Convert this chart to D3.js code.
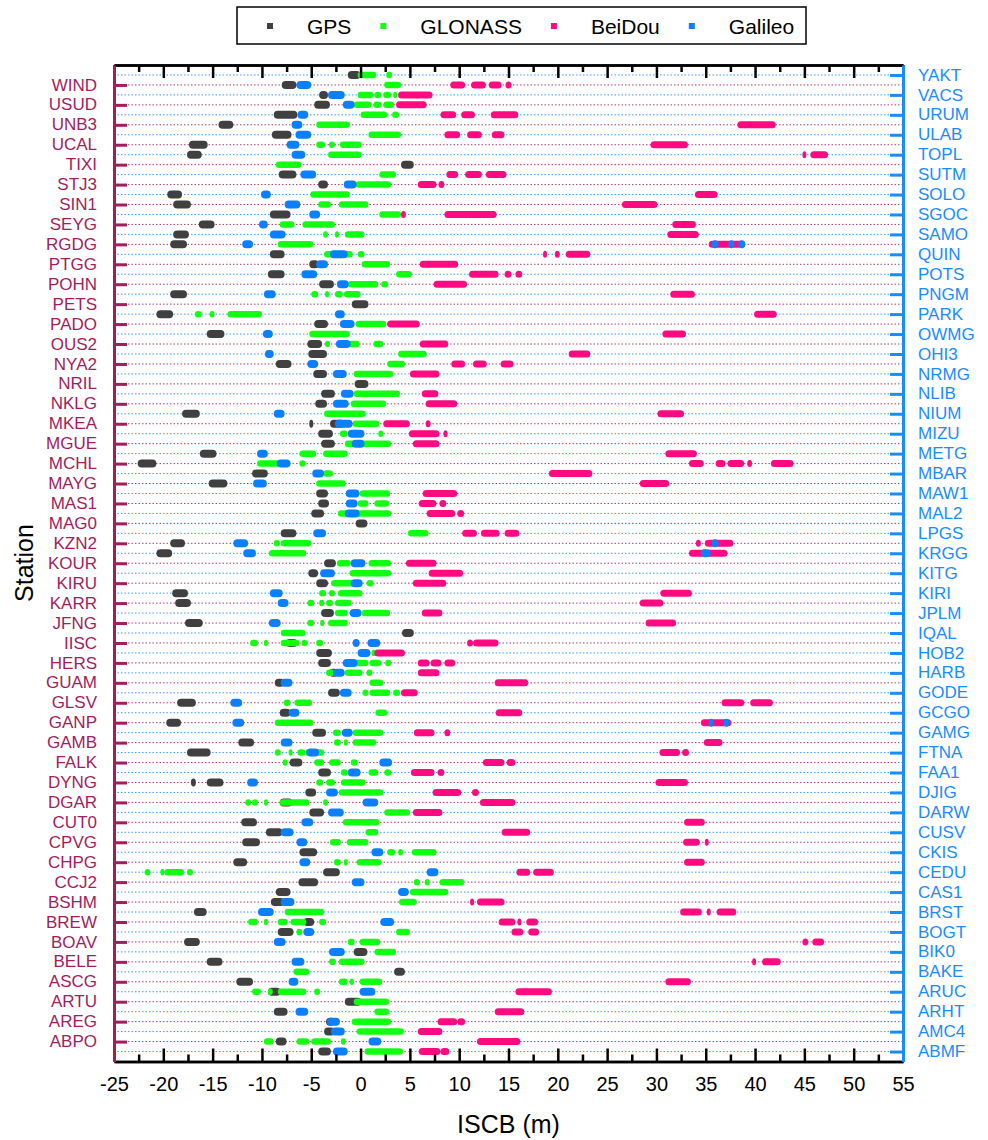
<!DOCTYPE html>
<html>
<head>
<meta charset="utf-8">
<script src="https://cdn.jsdelivr.net/npm/d3@7"></script>
<style>
  body { margin: 0; background: #fff; }
  text { font-family: "Liberation Sans", Arial, sans-serif; }
</style>
</head>
<body>
<div id="chart"></div>
<script>
// station names, left axis (maroon) and right axis (blue), top to bottom
const stationsLeft = ["WIND","USUD","UNB3","UCAL","TIXI","STJ3","SIN1","SEYG","RGDG","PTGG","POHN","PETS","PADO","OUS2","NYA2","NRIL","NKLG","MKEA","MGUE","MCHL","MAYG","MAS1","MAG0","KZN2","KOUR","KIRU","KARR","JFNG","IISC","HERS","GUAM","GLSV","GANP","GAMB","FALK","DYNG","DGAR","CUT0","CPVG","CHPG","CCJ2","BSHM","BREW","BOAV","BELE","ASCG","ARTU","AREG","ABPO"];
const stationsRight = ["YAKT","VACS","URUM","ULAB","TOPL","SUTM","SOLO","SGOC","SAMO","QUIN","POTS","PNGM","PARK","OWMG","OHI3","NRMG","NLIB","NIUM","MIZU","METG","MBAR","MAW1","MAL2","LPGS","KRGG","KITG","KIRI","JPLM","IQAL","HOB2","HARB","GODE","GCGO","GAMG","FTNA","FAA1","DJIG","DARW","CUSV","CKIS","CEDU","CAS1","BRST","BOGT","BIK0","BAKE","ARUC","ARHT","AMC4","ABMF"];

// rows interleaved: right, left, right, left ... (alphabetical, descending)
const rows = [];
stationsRight.forEach((s, i) => { rows.push(s); if (i < stationsLeft.length) rows.push(stationsLeft[i]); });

const systems = ["GPS", "GLONASS", "BeiDou", "Galileo"];
const sysColors = ["#404040", "#11ff11", "#ff0a80", "#0a7fff"];

// ISCB clusters (m) per row, [min, max], row order as in `rows`
const gpsISCB = [
 [[-1.3,0]],[[-8.0,-6.5]],[[-4.2,-3.3]],[[-4.7,-3.1]],[[-8.8,-6.4]],[[-14.4,-12.9]],[[-9.0,-7.0]],[[-17.4,-15.5]],[[-17.6,-16.1]],[[4.1,5.4]],
 [[-8.3,-6.5]],[[-4.3,-3.3]],[[-19.6,-18.1]],[[-19.0,-17.2]],[[-9.2,-7.1]],[[-16.4,-14.8]],[[-19.0,-17.4]],[[-19.3,-17.6]],[[-9.2,-7.7]],[[-5.2,-4.2]],
 [[-9.4,-7.7]],[[-4.2,-2.7]],[[-19.3,-17.6]],[[-0.9,0.8]],[[-20.7,-19.0]],[[-4.7,-3.3]],[[-15.6,-13.8]],[[-5.4,-3.9]],[[-5.3,-3.4]],[[-8.6,-7.0]],
 [[-4.8,-3.4]],[[-0.6,0.8]],[[-4.0,-2.6]],[[-4.6,-3.4]],[[-18.1,-16.3]],[[-5.2,-5.0],[-3.1,-1.6]],[[-4.3,-2.8]],[[-4.0,-2.6]],[[-16.3,-14.6]],[[-22.6,-20.7]],
 [[-11.0,-9.4]],[[-15.4,-13.5]],[[-4.5,-3.3]],[[-4.3,-3.2]],[[-5.0,-3.7]],[[-0.5,0.7]],[[-8.1,-6.5]],[[-19.3,-17.8]],[[-20.7,-19.1]],[[-3.7,-2.5]],
 [[-5.3,-4.3]],[[-4.5,-3.3]],[[-19.1,-17.5]],[[-18.8,-17.2]],[[-4.0,-2.7]],[[-17.8,-16.0]],[[4.2,5.4]],[[-7.6,-6.4]],[[-4.5,-2.9]],[[-4.3,-3.0]],
 [[-3.2,-2.3]],[[-8.7,-7.7]],[[-3.3,-2.1]],[[-18.6,-16.7]],[[-8.2,-7.1]],[[-19.7,-18.2]],[[-4.9,-3.5]],[[-12.4,-10.8]],[[-17.6,-15.2]],[[-7.2,-5.9]],
 [[-4.3,-3.0]],[[-17.2,-16.7],[-15.6,-13.9]],[[-5.6,-4.5]],[[-8.2,-6.9]],[[-5.2,-3.7]],[[-12.1,-10.5]],[[-9.6,-7.9]],[[-12.0,-10.2]],[[-6.2,-4.4]],[[-12.9,-11.5]],
 [[-3.8,-2.1]],[[-6.3,-4.3]],[[-8.6,-7.1]],[[-9.1,-7.7]],[[-16.9,-15.6]],[[-5.8,-4.7]],[[-8.4,-6.8]],[[-17.9,-16.3]],[[-0.7,0.7]],[[-15.6,-14.0]],
 [[3.4,4.5]],[[-12.6,-10.9]],[[-9.4,-8.1]],[[-1.6,0.1]],[[-8.8,-7.4]],[[-3.5,-2.6]],[[-3.7,-2.6]],[[-8.6,-7.5]],[[-4.3,-3.0]]
];
const glonassISCB = [
 [[-0.3,1.6],[2.6,3.2]],[[2.4,4.1]],[[-0.3,1.3],[1.4,2.1],[2.3,3.1],[3.3,3.7]],[[-0.7,1.1],[1.3,2.1],[2.3,3.4]],[[0,2.7],[3.2,3.9]],
 [[-4.5,-1.1]],[[0.8,4.1]],[[-4.5,-3.6],[-3.2,-2.6],[-2.1,0.1]],[[-3.3,0.1]],[[-8.6,-6.0]],
 [[1.9,3.6]],[[-0.5,3.1]],[[-5.1,-1.1]],[[-4.3,-3.0],[-2.2,0.8]],[[1.9,4.1]],
 [[-8.2,-6.7],[-5.9,-2.6]],[[-3.8,-3.3],[-2.6,-2.2],[-1.6,0.4]],[[-8.4,-4.8]],[[-3.7,-0.8],[-0.3,0.4]],[[0.1,3.0]],
 [[3.6,5.2]],[[-1.3,1.8],[2.1,2.8]],[[-5.0,-4.3],[-3.6,-3.2],[-2.6,-1.8],[-1.7,0]],[],[[-16.8,-16.1],[-15.3,-14.8],[-13.5,-10.0]],
 [[-0.5,2.6]],[[-5.2,-1.1]],[[-3.6,-3.1],[-1.3,-0.1],[1.3,2.3]],[[3.8,6.7]],[[2.7,4.5]],
 [[-0.7,3.3]],[],[[-0.7,4.0]],[[-1.0,2.6]],[[-3.7,0.5]],
 [[-0.8,1.9]],[[-2.1,-1.3],[1.8,2.3]],[[-1.6,3.1]],[[-6.2,-4.5],[-3.8,-1.3]],[[-10.5,-8.1],[-6.2,-5.6]],
 [[-3.8,-2.8]],[[-4.5,-1.5]],[[-0.1,3.0]],[[-0.3,0.8],[1.4,2.9]],[[-2.3,3.1]],
 [],[[4.8,6.9]],[[-8.8,-8.2],[-8.1,-5.0]],[[-9.3,-5.5]],[[-2.4,-1.0],[0.8,3.1]],
 [[-1.1,3.1]],[[-3.0,0.2],[0.6,1.3]],[[-4.2,-3.5],[-3.2,-2.6],[-2.3,0.2]],[[-5.4,-4.7],[-4.2,-3.7],[-3.5,-2.8],[-2.6,-0.9]],[[-2.6,-1.3],[0.1,3.0]],
 [[-5.4,-4.7],[-4.1,-3.7],[-3.3,-1.3]],[[-8.1,-5.6]],[[-11.2,-10.4],[-9.8,-9.4],[-8.1,-6.2],[-6.0,-5.4],[-4.5,-3.8]],[[1.1,1.6]],[[-0.7,0.8],[0.9,2.1],[2.5,3.1]],
 [[-3.5,-2.6],[-1.6,0.2],[0.6,1.2]],[[0.9,2.3]],[[0.2,0.8],[0.9,3.0],[3.3,4.0]],[[-7.8,-7.1],[-6.7,-4.9]],[[1.5,2.7]],
 [[-8.7,-4.8]],[[-2.8,-2.0],[-0.8,2.3]],[[-2.7,-2.0],[-1.7,-1.3],[-0.8,1.6]],[[-8.7,-8.1],[-7.3,-6.9],[-6.4,-5.6],[-5.6,-3.7]],[[-7.9,-7.4],[-4.7,-3.7],[-3.2,-2.0],[-1.0,-0.3]],
 [[-2.0,-1.3],[0.8,1.8],[2.4,3.1]],[[-4.5,-3.8],[-3.5,-2.6],[-2.0,0.5]],[[-2.2,2.3]],[[-11.7,-11.1],[-11.0,-10.4],[-9.8,-9.4],[-8.2,-5.2],[-3.8,-3.3]],[[2.4,5.0]],
 [[-1.8,1.9]],[[0.5,1.8]],[[-3.1,-2.0],[-1.4,0.8]],[[2.7,3.5],[3.8,4.3],[5.2,7.7]],[[-2.7,-2.0],[-1.7,-1.3],[-0.4,2.1]],
 [[-21.9,-21.3],[-20.3,-19.9],[-19.9,-17.9],[-17.6,-17.0]],[[5.4,6.0],[6.5,7.0],[8.0,10.5]],[[5.0,8.9]],[[3.9,5.7]],[[-7.7,-3.7]],
 [[-11.4,-10.4],[-9.8,-9.4],[-8.4,-7.4],[-7.1,-5.5],[-4.2,-3.5]],[[-6.5,-5.9],[3.6,5.0]],[[-1.3,-0.6],[-0.1,2.0]],[[1.4,3.6]],[[-3.2,-2.5],[-2.2,0.4]],
 [[-6.8,-5.2]],[[-2.2,-1.3],[-1.1,-0.7],[-0.1,2.2]],[[-11.0,-10.1],[-9.4,-8.9],[-8.4,-5.5],[-4.7,-4.1]],[[-0.7,2.9]],[[1.4,2.9]],
 [[-0.9,3.1]],[[-0.4,4.4]],[[-9.8,-8.8],[-6.5,-5.2],[-5.0,-3.0],[-2.0,-1.5]],[[0.4,4.3]]
];
const beidouISCB = [
 [],[[9.1,10.6],[11.2,12.7],[13.0,14.3],[14.7,15.3]],[[3.8,7.3]],[[3.6,6.7]],[[8.1,9.7],[10.2,11.6],[13.2,16.0]],
 [[38.2,42.1]],[[8.5,10.1],[10.8,12.3],[13.3,14.6]],[[29.4,33.2]],[[44.8,45.1],[45.6,47.4]],[],
 [[8.7,9.9],[10.6,12.3],[12.7,14.8]],[[5.8,7.7],[7.9,8.5]],[[33.9,36.2]],[[26.5,30.1]],[[4.1,4.6],[8.5,13.8]],
 [[31.6,34.0]],[[31.1,34.3]],[[35.3,39.0]],[[18.5,18.9],[19.7,20.2],[20.8,23.3]],[[6.0,9.9]],
 [[11.0,14.0],[14.6,15.3],[15.7,16.4]],[[7.4,10.8]],[[31.4,33.9]],[],[[39.9,42.2]],
 [[2.7,6.0]],[[30.6,33.0]],[[6.0,8.9]],[[21.1,23.3]],[[9.2,10.6],[11.4,12.8],[14.2,15.5]],
 [[5.0,8.0]],[],[[6.2,7.9]],[[6.6,9.8]],[[30.1,32.8]],
 [[2.3,5.0],[6.6,7.1]],[[4.9,8.0],[8.4,8.7]],[[5.3,8.0]],[[30.9,34.1]],[[33.3,34.8],[36.0,37.0],[37.2,38.9],[39.2,39.7],[41.6,43.9]],
 [[19.1,23.5]],[[28.3,31.3]],[[6.3,9.8]],[[5.9,7.7],[8.0,8.7]],[[6.7,9.6],[9.8,10.5]],
 [],[[10.3,11.8],[12.2,14.1],[14.6,16.1]],[[34.0,34.5],[34.9,37.8]],[[33.3,37.2]],[[4.6,7.7]],
 [[6.9,10.4]],[[5.3,8.7]],[[30.4,33.6]],[[28.3,30.7]],[[6.2,8.3]],
 [[28.9,32.0]],[],[[10.8,11.4],[11.4,14.0]],[[1.4,4.5]],[[5.8,7.0],[7.1,8.2],[8.5,9.6]],
 [[5.8,8.0]],[[13.6,17.0]],[[4.1,5.8]],[[36.6,38.9],[39.5,41.8]],[[13.7,16.4]],
 [[34.5,37.6]],[[5.4,7.5],[8.5,9.1]],[[34.8,36.7]],[[30.3,32.4],[32.6,33.3]],[[12.4,14.6],[14.8,15.7]],
 [[5.1,7.5],[7.8,8.5]],[[29.9,33.2]],[[7.3,10.2],[11.3,12.0]],[[12.1,15.7]],[[5.3,8.3]],
 [[32.8,34.9]],[[14.3,17.2]],[[32.7,34.4],[34.9,35.3]],[],[[32.8,34.9]],
 [[15.8,17.2],[17.5,19.6]],[],[],[[11.1,11.5],[11.8,14.6]],[[32.4,34.6],[35.1,35.5],[36.1,38.1]],
 [[14.0,15.7],[15.9,16.2],[16.8,18.0]],[[15.3,16.5],[17.0,18.1]],[[44.8,45.4],[45.8,47.0]],[],[[39.7,40.0],[40.7,42.6]],
 [],[[30.9,33.5]],[[15.7,19.4]],[],[[13.6,16.6]],
 [[7.8,9.8],[9.8,10.6]],[[5.8,8.3]],[[11.8,16.2]],[[5.9,8.1],[8.1,9.0]]
];
const galileoISCB = [
 [],[[-6.5,-5.0]],[[-3.3,-1.6]],[[-1.8,-0.6]],[[-6.4,-5.3]],
 [[-7.0,-5.9]],[[-6.6,-5.0]],[[-7.5,-6.2]],[[-7.0,-5.6]],[],
 [[-6.1,-4.5]],[[-1.7,-0.4]],[[-10.1,-9.1]],[[-7.7,-6.1]],[[-5.2,-4.1]],
 [[-10.3,-9.4]],[[-9.2,-7.6]],[[-12.0,-10.9],[35.6,36.3],[37.3,37.9],[38.3,39.0]],[[-3.1,-1.3]],[[-4.5,-3.3]],
 [[-6.0,-4.4]],[[-2.4,-1.2]],[[-9.8,-8.6]],[],[[-2.6,-1.6]],
 [[-2.1,-0.6]],[[-9.9,-8.9]],[[-2.5,-1.0]],[[-9.7,-8.8]],[[-5.4,-4.3]],
 [[-2.8,-1.4]],[],[[-2.0,-0.7]],[[-2.8,-1.2]],[[-8.8,-7.7]],
 [[-2.6,-0.8]],[[-1.3,0.4]],[[-0.9,0.4]],[[-10.5,-9.4]],[[-8.5,-7.1]],
 [[-4.9,-3.7]],[[-10.9,-9.5]],[[-1.5,-0.1]],[[-1.5,-0.3]],[[-1.6,-0.1]],
 [],[[-4.8,-3.5]],[[-12.9,-11.4],[35.6,36.3]],[[-11.9,-10.6],[34.5,35.5]],[[-1.0,0.5]],
 [[-4.1,-2.6]],[[-1.0,0.2]],[[-9.2,-7.9]],[[-8.4,-7.3]],[[-1.1,0.1]],
 [[-9.3,-8.1]],[],[[-0.8,-0.1],[0.7,2.0]],[[-0.3,1.0]],[[-1.8,-0.3]],
 [[-2.8,-1.6]],[[-8.1,-6.9]],[[-2.1,-0.9]],[[-13.2,-12.0]],[[-7.3,-6.2]],
 [[-13.0,-11.8],[35.3,35.8],[36.8,37.4]],[[-1.9,-0.8]],[[-8.1,-6.9]],[[-5.5,-4.2]],[[1.9,3.2]],
 [[-1.3,0]],[[-11.5,-10.4]],[[-3.5,-2.3]],[[0.2,1.8]],[[-3.3,-1.7]],
 [[-6.0,-4.8]],[[-8.1,-6.8]],[[-6.5,-5.4]],[[1.1,2.3]],[[-6.2,-5.1]],
 [[6.7,7.9]],[[-0.9,0.4]],[[3.8,4.9]],[[-8.1,-6.7]],[[-10.4,-8.8]],
 [[2.0,3.4]],[[-5.8,-4.7]],[[-8.8,-7.6]],[[-3.2,-1.6]],[[-7.0,-5.7]],
 [],[[-7.3,-6.3]],[[-0.1,1.5]],[],[[-6.6,-5.3]],
 [[-3.4,-2.1]],[[-3.0,-1.6]],[[0.8,2.1]],[[-2.8,-1.3]]
];
const seriesData = [gpsISCB, glonassISCB, beidouISCB, galileoISCB];
const blobHeights = [8, 6.5, 7, 8];

const xTicks = d3.range(-25, 56, 5);
const xMinor = d3.range(-22.5, 55, 5);

const maroon = "#a21d5c", blue = "#1a8cff";
const width = 988, height = 1140;
const plot = {left: 114, right: 903, top: 65, bottom: 1061.5};

const svg = d3.select("#chart").append("svg")
    .attr("width", width).attr("height", height);

const x = d3.scaleLinear().domain([-25, 55]).range([plot.left, plot.right]);
const y = d3.scalePoint().domain(rows).range([plot.top, plot.bottom]).padding(1);

const isLeft = new Set(stationsLeft);

// dotted row lines
svg.append("g").selectAll("line").data(rows).enter().append("line")
    .attr("x1", plot.left).attr("x2", plot.right)
    .attr("y1", d => y(d)).attr("y2", d => y(d))
    .attr("stroke", d => isLeft.has(d) ? maroon : blue)
    .attr("stroke-opacity", 0.85)
    .attr("stroke-width", 1)
    .attr("stroke-dasharray", "1.5,2");

// clusters, drawn GPS -> GLONASS -> BeiDou -> Galileo
seriesData.forEach((series, k) => {
    const h = blobHeights[k];
    const flat = [];
    series.forEach((ranges, i) => ranges.forEach(r => flat.push({row: rows[i], lo: r[0], hi: r[1]})));
    svg.append("g").attr("class", systems[k]).selectAll("rect").data(flat).enter().append("rect")
        .attr("x", d => x(d.lo))
        .attr("width", d => Math.max(x(d.hi) - x(d.lo), 4))
        .attr("y", d => y(d.row) - h / 2)
        .attr("height", h)
        .attr("rx", h / 2).attr("ry", h / 2)
        .attr("fill", sysColors[k]);
});

// x axes
function styleAxis(g, color, w) {
    g.select(".domain").attr("stroke", color).attr("stroke-width", w);
    g.selectAll(".tick line").attr("stroke", color).attr("stroke-width", w);
}
const bottomAx = svg.append("g").attr("transform", `translate(0,${plot.bottom})`)
    .call(d3.axisBottom(x).tickValues(xTicks).tickSizeInner(-13).tickSizeOuter(0).tickPadding(15)
        .tickFormat(d => String(d)));
styleAxis(bottomAx, "#000", 2.5);
bottomAx.selectAll("text").attr("font-size", 20).attr("fill", "#000");
const bottomMinor = svg.append("g").attr("transform", `translate(0,${plot.bottom})`)
    .call(d3.axisBottom(x).tickValues(xMinor).tickSizeInner(-7).tickSizeOuter(0).tickFormat(""));
styleAxis(bottomMinor, "#000", 2.5);
const topAx = svg.append("g").attr("transform", `translate(0,${plot.top})`)
    .call(d3.axisTop(x).tickValues(xTicks).tickSizeInner(-13).tickSizeOuter(0).tickFormat(""));
styleAxis(topAx, "#000", 2.5);
const topMinor = svg.append("g").attr("transform", `translate(0,${plot.top})`)
    .call(d3.axisTop(x).tickValues(xMinor).tickSizeInner(-7).tickSizeOuter(0).tickFormat(""));
styleAxis(topMinor, "#000", 2.5);

// y axes
const leftAx = svg.append("g").attr("transform", `translate(${plot.left},0)`)
    .call(d3.axisLeft(y).tickValues(stationsLeft).tickSizeInner(-13).tickSizeOuter(0).tickPadding(17));
styleAxis(leftAx, maroon, 3);
leftAx.selectAll("text").attr("font-size", 17).attr("fill", maroon).attr("dy", "0.3em");
const rightAx = svg.append("g").attr("transform", `translate(${plot.right},0)`)
    .call(d3.axisRight(y).tickValues(stationsRight).tickSizeInner(-13).tickSizeOuter(0).tickPadding(15));
styleAxis(rightAx, blue, 3);
rightAx.selectAll("text").attr("font-size", 17).attr("fill", blue).attr("dy", "0.3em");

// titles
svg.append("text").attr("x", (plot.left + plot.right) / 2).attr("y", 1133)
    .attr("text-anchor", "middle").attr("font-size", 25).text("ISCB (m)");
svg.append("text").attr("transform", "translate(33,563) rotate(-90)")
    .attr("text-anchor", "middle").attr("font-size", 25).text("Station");

// legend
const legend = svg.append("g");
legend.append("rect").attr("x", 237).attr("y", 7).attr("width", 569).attr("height", 37)
    .attr("fill", "#fff").attr("stroke", "#000").attr("stroke-width", 1.5);
let lx = 270;
systems.forEach((s, k) => {
    legend.append("rect").attr("x", lx - 3).attr("y", 23).attr("width", 6).attr("height", 6)
        .attr("fill", sysColors[k]);
    const t = legend.append("text").attr("x", lx + 37).attr("y", 34)
        .attr("font-size", 21).text(s);
    lx = lx + 37 + t.node().getComputedTextLength() + 32;
});
</script>
</body>
</html>
